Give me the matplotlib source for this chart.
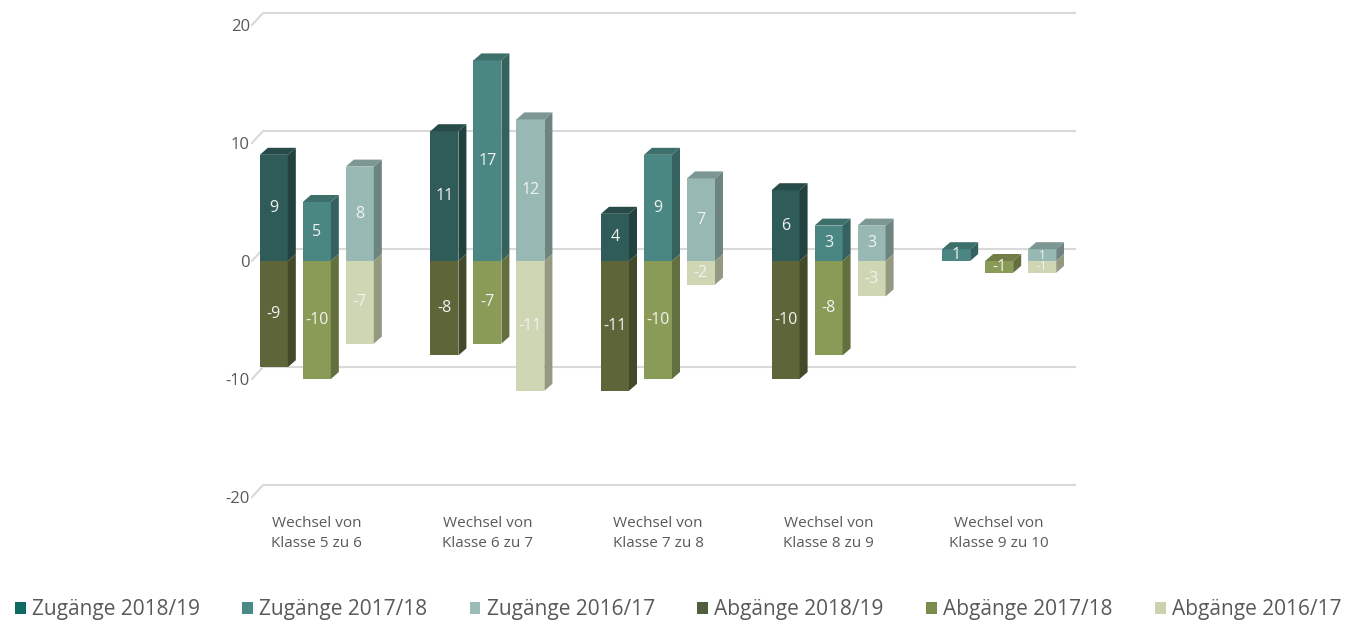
import matplotlib
matplotlib.use("Agg")
import matplotlib.pyplot as plt
from matplotlib.patches import Polygon, Patch
from matplotlib.lines import Line2D
import numpy as np

# ---------------- data ----------------
categories = ["Wechsel von\nKlasse 5 zu 6", "Wechsel von\nKlasse 6 zu 7", "Wechsel von\nKlasse 7 zu 8",
              "Wechsel von\nKlasse 8 zu 9", "Wechsel von\nKlasse 9 zu 10"]
years = ["2018/19", "2017/18", "2016/17"]
zugaenge_2018_19 = [9, 11, 4, 6, 1]
zugaenge_2017_18 = [5, 17, 9, 3, 0]
zugaenge_2016_17 = [8, 12, 7, 3, 1]
abgaenge_2018_19 = [-9, -8, -11, -10, 0]
abgaenge_2017_18 = [-10, -7, -10, -8, -1]
abgaenge_2016_17 = [-7, -11, -2, -3, -1]
yticks = [-20, -10, 0, 10, 20]

zug = [zugaenge_2018_19, zugaenge_2017_18, zugaenge_2016_17]
abg = [abgaenge_2018_19, abgaenge_2017_18, abgaenge_2016_17]

# colours (front faces) and legend swatches
zug_front = ["#2f5b58", "#4a8783", "#97b8b3"]
abg_front = ["#5d6539", "#8a9a57", "#ced6b3"]
zug_leg = ["#0f6a63", "#4a8a85", "#9bbdb8"]
abg_leg = ["#4f5e3f", "#7b8b49", "#cad3ae"]
# point in the last group drawn in the medium teal in the original
override = {(0, 4): "#4a8783"}

def shade(c, f):
    r, g, b = matplotlib.colors.to_rgb(c)
    return (r * f, g * f, b * f)

# ---------------- figure ----------------
W, H = 1350, 621
fig = plt.figure(figsize=(W / 100, H / 100), dpi=100)
ax_l, ax_r = 252, 1064
ax_t, ax_b = 25, 497
ax = fig.add_axes([ax_l / W, 1 - ax_b / H, (ax_r - ax_l) / W, (ax_b - ax_t) / H])
xlim = (-0.38, 4.38)
ylim = (-20, 20)
ax.set_xlim(*xlim)
ax.set_ylim(*ylim)
for s in ax.spines.values():
    s.set_visible(False)

px_x = (ax_r - ax_l) / (xlim[1] - xlim[0])
px_y = (ax_b - ax_t) / (ylim[1] - ylim[0])

# back-wall gridlines
gdx, gdy = 11 / px_x, 12 / px_y
for v in yticks:
    ax.add_line(Line2D([xlim[0], xlim[0] + gdx, xlim[1] + gdx], [v, v + gdy, v + gdy],
                       color="#d9d9d9", lw=1.5, clip_on=False, zorder=0))

ax.set_yticks(yticks)
ax.set_yticklabels([str(t) for t in yticks])
x = np.arange(len(categories))
ax.set_xticks(x)
ax.set_xticklabels(categories, linespacing=1.45)
ax.tick_params(axis="y", length=0, pad=1.5, labelsize=12, labelcolor="#595959")
ax.tick_params(axis="x", length=0, pad=14, labelsize=11, labelcolor="#595959")
for t in ax.get_xticklabels() + ax.get_yticklabels():
    t.set_fontfamily("Open Sans")

# 3D-looking columns
bw = 28 / px_x
off = 43 / px_x
ddx, ddy = 8 / px_x, 7 / px_y

for j in range(3):
    xs = x + (j - 1) * off
    zc = [override.get((j, i), zug_front[j]) for i in range(len(x))]
    ac = [abg_front[j]] * len(x)
    ax.bar(xs, zug[j], width=bw, color=zc, zorder=2, linewidth=0)
    ax.bar(xs, abg[j], width=bw, color=ac, zorder=2, linewidth=0)
    for i in range(len(x)):
        z, a = zug[j][i], abg[j][i]
        x0 = xs[i] - bw / 2
        x1 = xs[i] + bw / 2
        # side faces
        for (y0, y1, c) in [(0, z, zc[i]), (a, 0, ac[i])]:
            if y1 - y0 == 0:
                continue
            ax.add_patch(Polygon([(x1, y0), (x1 + ddx, y0 + ddy), (x1 + ddx, y1 + ddy), (x1, y1)],
                                 closed=True, facecolor=shade(c, 0.72), edgecolor="none", zorder=2))
        # top face
        if z > 0:
            top, tc = z, zc[i]
        elif a < 0:
            top, tc = 0, ac[i]
        else:
            continue
        ax.add_patch(Polygon([(x0, top), (x0 + ddx, top + ddy), (x1 + ddx, top + ddy), (x1, top)],
                             closed=True, facecolor=shade(tc, 0.82), edgecolor="none", zorder=2))
        # labels
        small = (z != 0 and a != 0 and z - a <= 2)
        for (v, mid) in [(z, z / 2), (a, a / 2)]:
            if v == 0:
                continue
            ax.text(xs[i], mid, str(v), ha="center", va="center", color="#f2f2f2",
                    fontsize=8.5 if small else 11.5, family="Open Sans", zorder=3)

# legend
handles = [Patch(facecolor=zug_leg[j], edgecolor="none") for j in range(3)] + \
          [Patch(facecolor=abg_leg[j], edgecolor="none") for j in range(3)]
labels = ["Zugänge " + y for y in years] + ["Abgänge " + y for y in years]
fig.legend(handles, labels, loc="lower left", bbox_to_anchor=(0.005, -0.012), ncol=6, frameon=False,
           prop={"family": "Open Sans", "size": 15}, labelcolor="#595959",
           handlelength=0.5, handleheight=0.5, handletextpad=0.3, columnspacing=2.05,
           borderaxespad=0.0)

fig.savefig("out.png", dpi=100)
